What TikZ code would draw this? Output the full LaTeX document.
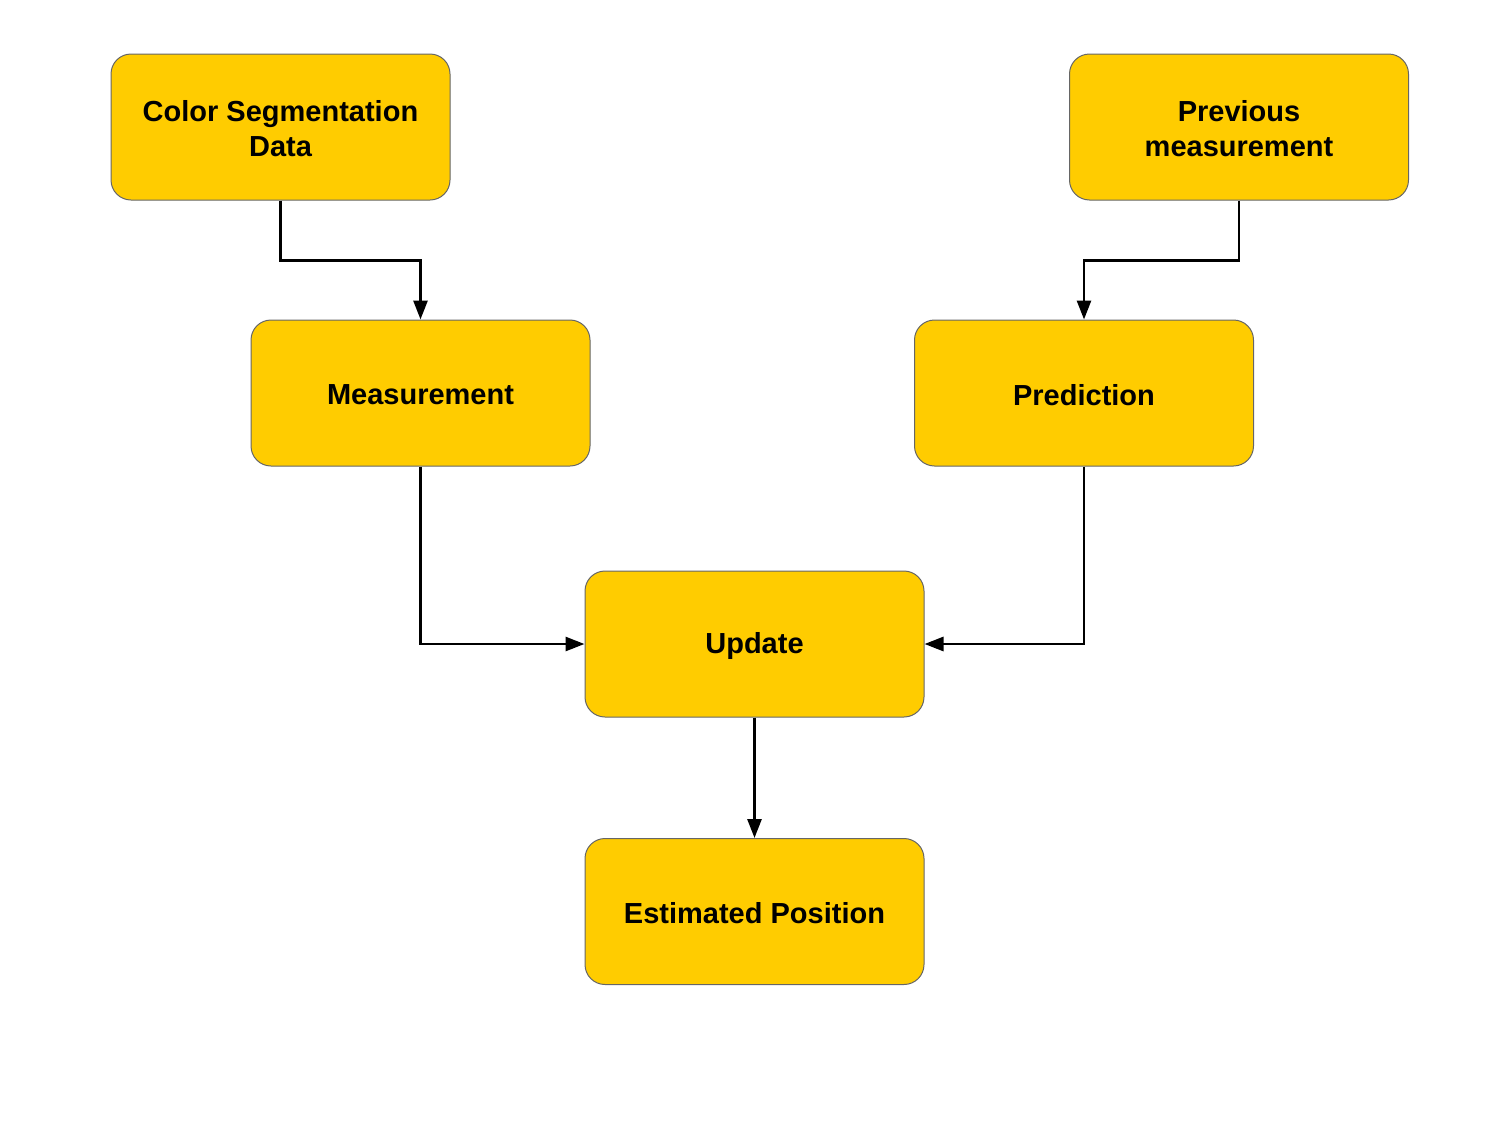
\documentclass[tikz,border=0pt]{standalone}
\usepackage{fontspec}
\setmainfont{Liberation Sans}
\usetikzlibrary{arrows.meta}
\definecolor{boxfill}{RGB}{255,204,0}
\definecolor{boxline}{RGB}{102,102,102}
\begin{document}
\begin{tikzpicture}[x=1pt,y=-1pt,
  box/.style={draw=boxline,line width=1pt,fill=boxfill,rounded corners=20pt,
    minimum width=339pt,minimum height=146pt,inner sep=0pt},
  boxtext/.style={align=center,inner sep=0pt,yshift=-2pt,
    font=\fontsize{29}{35}\selectfont\bfseries},
  conn/.style={line width=2.8pt,-{Triangle[length=19pt,width=14pt]}}]
\useasboundingbox (0,0) rectangle (1510,1133);
\node[box,label={[boxtext]center:Color Segmentation\\Data}] (csd) at (280.5,127) {};
\node[box,label={[boxtext]center:Previous\\measurement}] (prev) at (1239,127) {};
\node[box,label={[boxtext]center:Measurement}] (meas) at (420.5,393) {};
\node[box,label={[boxtext]center:Prediction}] (pred) at (1084,393) {};
\node[box,label={[boxtext]center:Update}] (upd) at (754.5,644) {};
\node[box,label={[boxtext]center:Estimated Position}] (est) at (754.5,911.5) {};
\draw[conn] (csd.south) -- ++(0,60) -| (meas.north);
\draw[conn] (prev.south) -- ++(0,60) -| (pred.north);
\draw[conn] (meas.south) |- (upd.west);
\draw[conn] (pred.south) |- (upd.east);
\draw[conn] (upd.south) -- (est.north);
\end{tikzpicture}
\end{document}
